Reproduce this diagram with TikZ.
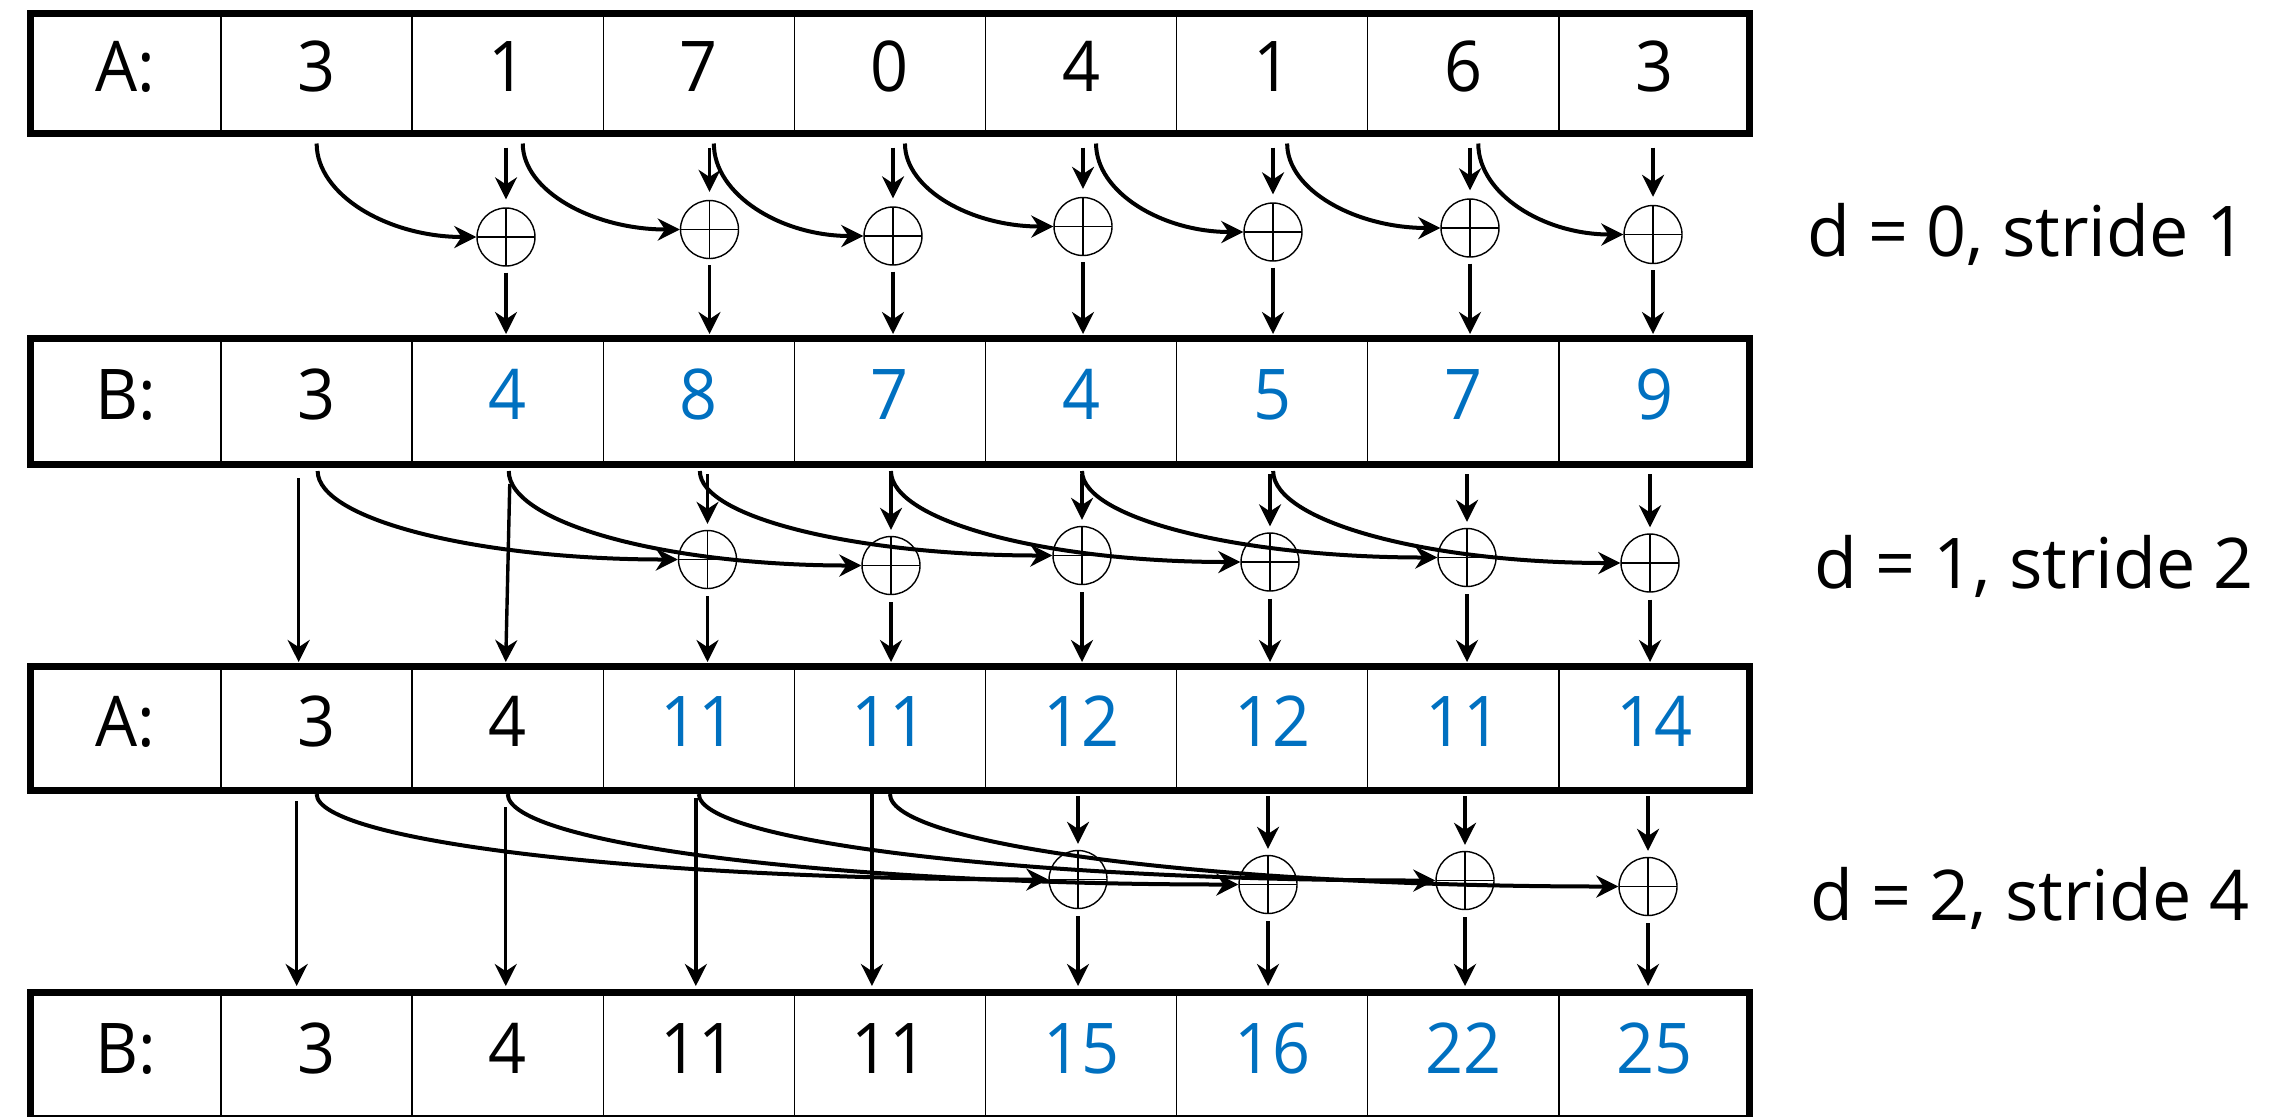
\documentclass[tikz,border=0pt]{standalone}
\usepackage{fontspec}
\setmainfont{Open Sans}[FakeStretch=0.95]
\newfontfamily\lblfont{Open Sans}
\usetikzlibrary{arrows.meta,calc}
\definecolor{valblue}{RGB}{0,112,192}
\begin{document}
\begin{tikzpicture}[x=0.5pt,y=-0.5pt,
  cell/.style={draw, line width=0.75pt, minimum width=95.55pt, inner sep=0pt, outer sep=0pt,
     text height=18pt, text depth=0pt, font=\fontsize{35}{40}\selectfont},
  hi/.style={text=valblue},
  lo/.style={},
  frame/.style={draw, line width=3.5pt},
  plusnode/.style={circle, draw, line width=0.7pt, fill=white, minimum size=29pt, inner sep=0pt,
     path picture={\draw[line width=0.7pt] (path picture bounding box.north) -- (path picture bounding box.south)
        (path picture bounding box.west) -- (path picture bounding box.east);}},
  arr/.style={-{Stealth[length=11pt,width=11pt]}, line width=1.7pt},
  carr/.style={arr, line width=2pt},
  lbl/.style={anchor=base west, inner sep=0pt, font=\lblfont\fontsize{35}{40}\selectfont}
]
\useasboundingbox (0,0) rectangle (2285,1116);
\clip (0,0) rectangle (2285,1116);

% ---- rows of cells
\foreach \k/\v/\s in {0/A:/lo,1/3/lo,2/1/lo,3/7/lo,4/0/lo,5/4/lo,6/1/lo,7/6/lo,8/3/lo}
  \node[cell, minimum height=60pt, \s] (ra\k) at ({30+191.1*(\k+0.5)},73.5) {\v};
\foreach \k/\v/\s in {0/B:/lo,1/3/lo,2/4/hi,3/8/hi,4/7/hi,5/4/hi,6/5/hi,7/7/hi,8/9/hi}
  \node[cell, minimum height=63pt, \s] (rb\k) at ({30+191.1*(\k+0.5)},401) {\v};
\foreach \k/\v/\s in {0/A:/lo,1/3/lo,2/4/lo,3/11/hi,4/11/hi,5/12/hi,6/12/hi,7/11/hi,8/14/hi}
  \node[cell, minimum height=62pt, \s] (rc\k) at ({30+191.1*(\k+0.5)},728) {\v};
\foreach \k/\v/\s in {0/B:/lo,1/3/lo,2/4/lo,3/11/lo,4/11/lo,5/15/hi,6/16/hi,7/22/hi,8/25/hi}
  \node[cell, minimum height=63pt, \s] (rd\k) at ({30+191.1*(\k+0.5)},1055) {\v};

\foreach \r in {ra,rb,rc,rd}
  \draw[frame] (\r0.north west) rectangle (\r8.south east);

% ---- adder nodes
\foreach \k/\x/\y in {2/506/237, 3/709.5/229.5, 4/893/236, 5/1083/226.5, 6/1273/232, 7/1470/228, 8/1653/234.5}
  \node[plusnode] (p0\k) at (\x,\y) {};
\foreach \k/\x/\y in {3/707.5/559.5, 4/891/565.5, 5/1082/555.5, 6/1270/562, 7/1467/557.5, 8/1650/563}
  \node[plusnode] (p1\k) at (\x,\y) {};
\foreach \k/\x/\y in {5/1078/879.5, 6/1268/884.5, 7/1465/880.5, 8/1648/886.5}
  \node[plusnode] (p2\k) at (\x,\y) {};

% ---- stage d = 0
\foreach \k in {2,...,8} {
  \draw[arr, shorten >=4pt] ($(p0\k |- ra\k.south)+(0,14)$) -- (p0\k.north);
  \draw[arr, shorten <=3pt] (p0\k.south) -- ($(p0\k |- rb\k.north)+(0,-4)$);
}
\foreach \k/\dx in {2/0, 3/15, 4/15, 5/15, 6/15, 7/15, 8/15} {
  \pgfmathtruncatemacro\j{\k-1}
  \coordinate (s0\k) at ($(ra\j.south)+(\dx,10)$);
  \draw[carr] (s0\k) .. controls ($(s0\k)!0.552!(s0\k |- p0\k.west)$)
      and ($(p0\k.west)!0.552!(s0\k |- p0\k.west)$) .. (p0\k.west);
}

% ---- stage d = 1
\draw[arr] ($(rb1.south)+(-18,14)$) -- ($(rc1.north)+(-18,-4)$);
\draw[arr] ($(rb2.south)+(2,20)$) -- ($(rc2.north)+(-2,-4)$);
\foreach \k in {3,...,8} {
  \draw[arr, shorten >=3pt] ($(p1\k |- rb\k.south)+(0,10)$) -- (p1\k.north);
  \draw[arr, shorten <=3.5pt] (p1\k.south) -- ($(p1\k |- rc\k.north)+(0,-4)$);
}
\foreach \k in {1,...,6} {
  \pgfmathtruncatemacro\j{\k+2}
  \coordinate (s1\k) at ($(rb\k.south)+(1,7)$);
  \draw[carr] (s1\k) .. controls ($(s1\k)!0.552!(s1\k |- p1\j.west)$)
      and ($(p1\j.west)!0.552!(s1\k |- p1\j.west)$) .. (p1\j.west);
}

% ---- stage d = 2
\foreach \k/\dx/\dy in {1/-20/11, 2/-2/17, 3/-3/8, 4/-18/4}
  \draw[arr] ($(rc\k.south)+(\dx,\dy)$) -- ($(rd\k.north)+(\dx,-6)$);
\foreach \k in {5,...,8} {
  \draw[arr, shorten >=3pt] ($(p2\k |- rc\k.south)+(0,6)$) -- (p2\k.north);
  \draw[arr, shorten <=3.5pt] (p2\k.south) -- ($(p2\k |- rd\k.north)+(0,-6)$);
}
\foreach \k in {1,...,4} {
  \pgfmathtruncatemacro\j{\k+4}
  \coordinate (s2\k) at ($(rc\k.south)+(0,4)$);
  \draw[carr] (s2\k) .. controls ($(s2\k)!0.552!(s2\k |- p2\j.west)$)
      and ($(p2\j.west)!0.552!(s2\k |- p2\j.west)$) .. (p2\j.west);
}

% ---- stage labels
\node[lbl] (l0) at (1807,256) {d = 0, stride 1};
\node[lbl] (l1) at (1814,588) {d = 1, stride 2};
\node[lbl] (l2) at (1810,920) {d = 2, stride 4};
\end{tikzpicture}
\end{document}
